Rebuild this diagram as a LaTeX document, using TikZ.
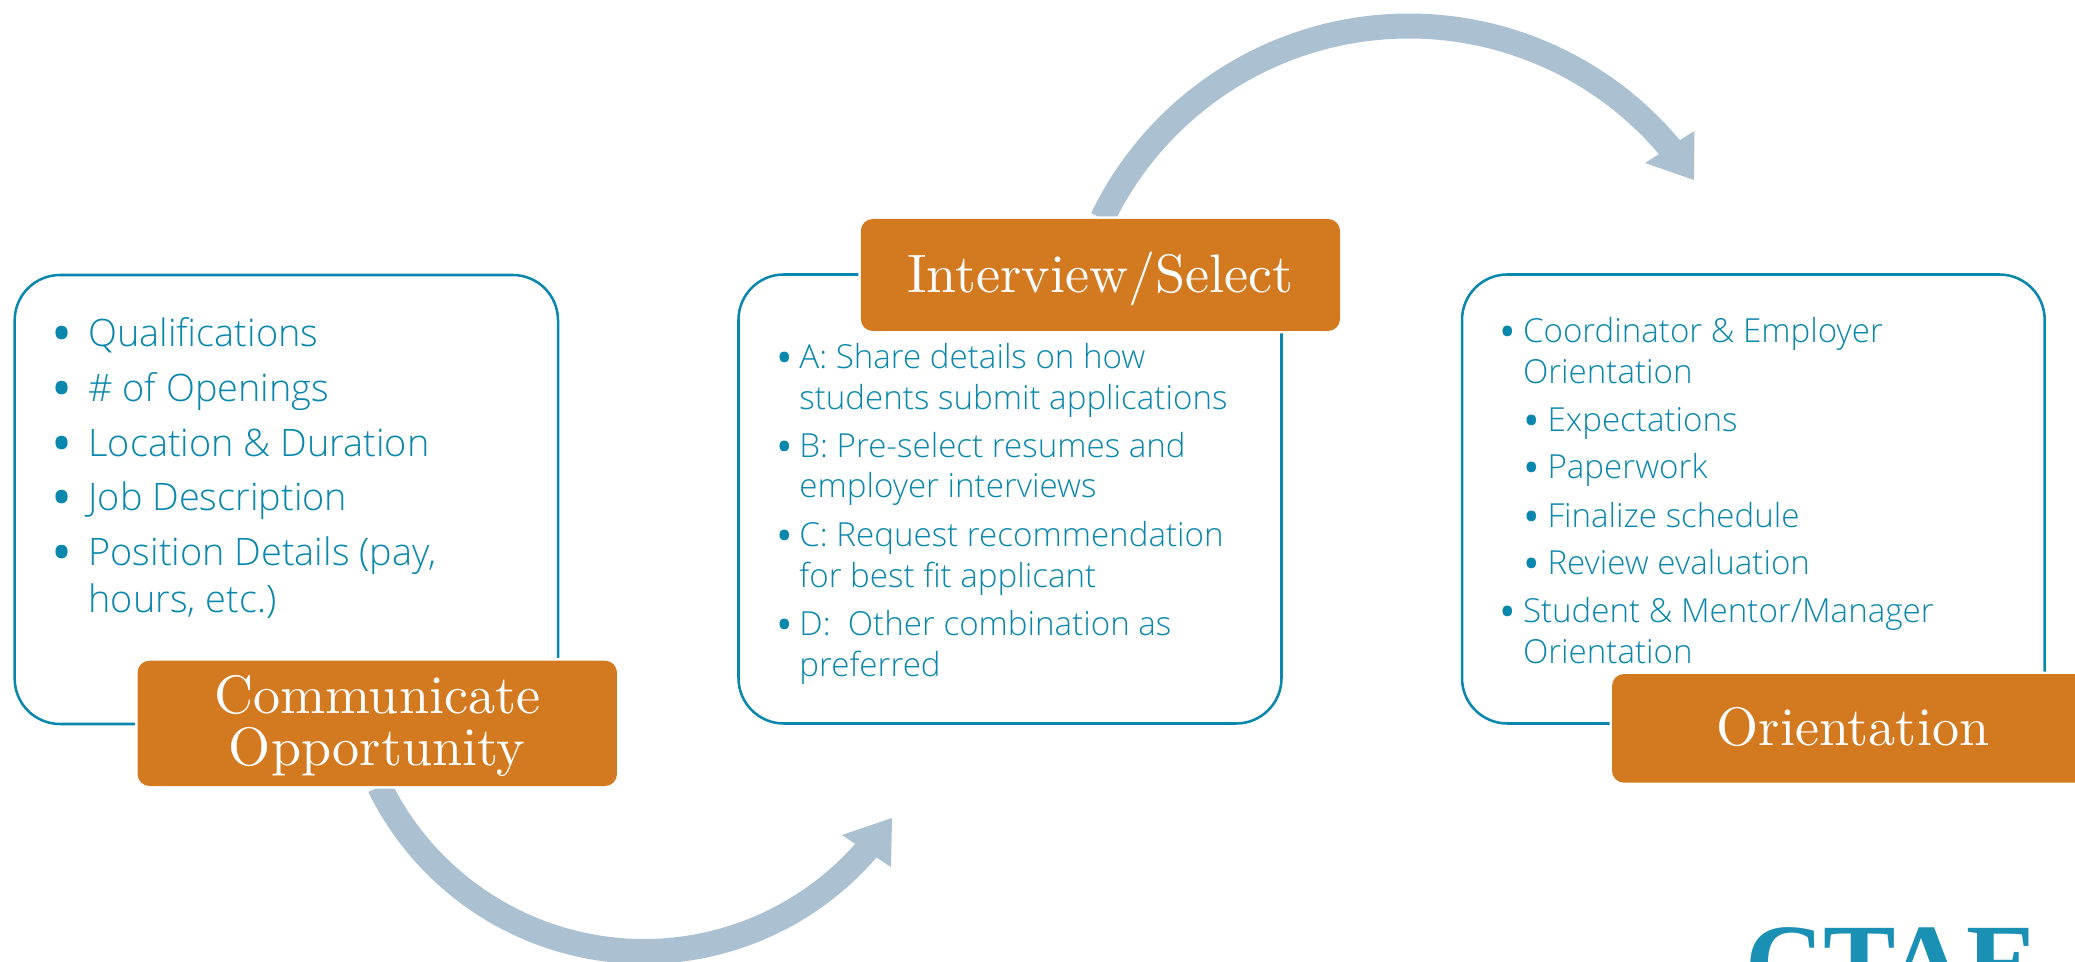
\documentclass[tikz,border=0pt]{standalone}
\usepackage{fontspec}
\usetikzlibrary{calc}
\setmainfont{lmroman10-regular}[Extension=.otf]
\newfontfamily\bodyfont{Open Sans}[UprightFont=* Light]
\newfontfamily\bulfont{Open Sans}
\newfontfamily\logofont{Liberation Serif}
\definecolor{tealline}{HTML}{0A87AD}
\definecolor{teallogo}{HTML}{1A90B5}
\definecolor{orangebox}{HTML}{D37A21}
\definecolor{flowblue}{HTML}{ABC1D2}
\newcommand{\bulA}{\raisebox{-5.8pt}{•}}
\newcommand{\bulB}{\raisebox{-4.4pt}{•}}
\tikzset{
  panel/.style={draw=tealline,line width=1.9pt,rounded corners=34pt,inner sep=0pt,outer sep=0pt},
  head/.style={fill=orangebox,rounded corners=9pt,inner sep=0pt,outer sep=0pt,text=white,
    font=\fontsize{40.6pt}{39.25pt}\selectfont,align=center,
    preaction={draw=white,line width=3.75pt}},
  oneline/.style={text height=29pt,text depth=3pt},
  flow/.style={fill=flowblue},
  lineA/.style={anchor=base west,inner sep=0pt,outer sep=0pt,text=tealline,font=\bodyfont\fontsize{28.4pt}{30pt}\selectfont},
  lineB/.style={anchor=base west,inner sep=0pt,outer sep=0pt,text=tealline,font=\bodyfont\fontsize{24.85pt}{30pt}\selectfont},
  bulletA/.style={anchor=base,inner sep=0pt,outer sep=0pt,text=tealline,font=\bulfont\fontsize{42pt}{42pt}\selectfont},
  bulletB/.style={anchor=base,inner sep=0pt,outer sep=0pt,text=tealline,font=\bulfont\fontsize{33pt}{33pt}\selectfont},
}
\begin{document}
\begin{tikzpicture}[x=0.75pt,y=0.75pt]
\useasboundingbox (0,0) rectangle (2075,961);
\clip (0,0) rectangle (2075,961);
% panels
\node[panel,minimum width=407.5pt,minimum height=336.75pt] (p1) at (286.35,461.5) {};
\node[panel,minimum width=407.25pt,minimum height=336.75pt] (p2) at (1010,462) {};
\node[panel,minimum width=437pt,minimum height=336.75pt] (p3) at (1753.35,462) {};
% flow arrows
\coordinate (c1) at (644,304);
\coordinate (c2) at (1409,594.5);
\coordinate (h1a) at (891,94);
\coordinate (h1b) at (892,143);
\coordinate (h1c) at (842,126);
\coordinate (s1a) at (395,173);
\coordinate (s1b) at (377,173);
\coordinate (h2a) at (1694.4,830);
\coordinate (h2b) at (1694,781);
\coordinate (h2c) at (1645,798);
\coordinate (s2a) at (1118,744);
\coordinate (s2b) at (1099,744);
\fill[flow] (c1) ++(206.07:307) arc[start angle=206.07,end angle=319.22,radius=307]
  -- (h1a) -- (h1b) -- (h1c) -- ($(c1)+(318.5:282)$) arc[start angle=318.5,end angle=207.75,radius=282]
  -- (s1a) -- (s1b) -- cycle;
\fill[flow] (c2) ++(154.24:353) arc[start angle=154.24,end angle=39.89,radius=353]
  -- (h2a) -- (h2b) -- (h2c) -- ($(c2)+(40.36:328)$) arc[start angle=40.36,end angle=152.81,radius=328]
  -- (s2a) -- (s2b) -- cycle;
% headings
\node[head,minimum width=359.6pt,minimum height=94pt] (o1) at (377.25,237.65) {\rule{0pt}{32.8pt}Communicate\\Opportunity};
\node[head,oneline,minimum width=359.4pt,minimum height=84pt] (o2) at (1100.4,686) {Interview/Select};
\node[head,text height=28.5pt,text depth=3pt,minimum width=361.5pt,minimum height=81.5pt] (o3) at (1853,232.65) {Orientation};
% panel 1 text
\node[bulletA] (b11) at (62,615) {\bulA};
\node[lineA] (t11) at (88.5,614) {Qualifications};
\node[bulletA] (b12) at (62,560.3) {\bulA};
\node[lineA] (t12) at (88.5,559.3) {\# of Openings};
\node[bulletA] (b13) at (62,505) {\bulA};
\node[lineA] (t13) at (88.5,504) {Location \& Duration};
\node[bulletA] (b14) at (62,451) {\bulA};
\node[lineA] (t14) at (88.5,450) {Job Description};
\node[bulletA] (b15) at (62,396) {\bulA};
\node[lineA] (t15) at (88.5,395) {Position Details (pay,};
\node[lineA] (t15b) at (88.5,348) {hours, etc.)};
% panel 2 text
\node[bulletB] (b21) at (784.5,593) {\bulB};
\node[lineB] (t21) at (799.4,592) {A: Share details on how};
\node[lineB] (t21b) at (799.4,551.4) {students submit applications};
\node[bulletB] (b22) at (784.5,504) {\bulB};
\node[lineB] (t22) at (799.4,503) {B: Pre-select resumes and};
\node[lineB] (t22b) at (799.4,463) {employer interviews};
\node[bulletB] (b23) at (784.5,415) {\bulB};
\node[lineB] (t23) at (799.4,414) {C: Request recommendation};
\node[lineB] (t23b) at (799.4,373) {for best fit applicant};
\node[bulletB] (b24) at (784.5,326) {\bulB};
\node[lineB] (t24) at (799.4,325) {D:\ \ Other combination as};
\node[lineB] (t24b) at (799.4,284) {preferred};
% panel 3 text
\node[bulletB] (b31) at (1508,619) {\bulB};
\node[lineB] (t31) at (1523,618) {Coordinator \& Employer};
\node[lineB] (t31b) at (1523,577) {Orientation};
\node[bulletB] (b32) at (1532,530) {\bulB};
\node[lineB] (t32) at (1547.5,529) {Expectations};
\node[bulletB] (b33) at (1532,483) {\bulB};
\node[lineB] (t33) at (1547.5,482) {Paperwork};
\node[bulletB] (b34) at (1532,434) {\bulB};
\node[lineB] (t34) at (1547.5,433) {Finalize schedule};
\node[bulletB] (b35) at (1532,387) {\bulB};
\node[lineB] (t35) at (1547.5,386) {Review evaluation};
\node[bulletB] (b36) at (1508,339) {\bulB};
\node[lineB] (t36) at (1523,338) {Student \& Mentor/Manager};
\node[lineB] (t36b) at (1523,297) {Orientation};
% logo
\node[anchor=base west,inner sep=0pt,outer sep=0pt,text=teallogo,font=\logofont\bfseries\fontsize{81.5pt}{81.5pt}\selectfont] (logo) at (1745,-38) {CTAE};
\end{tikzpicture}
\end{document}
